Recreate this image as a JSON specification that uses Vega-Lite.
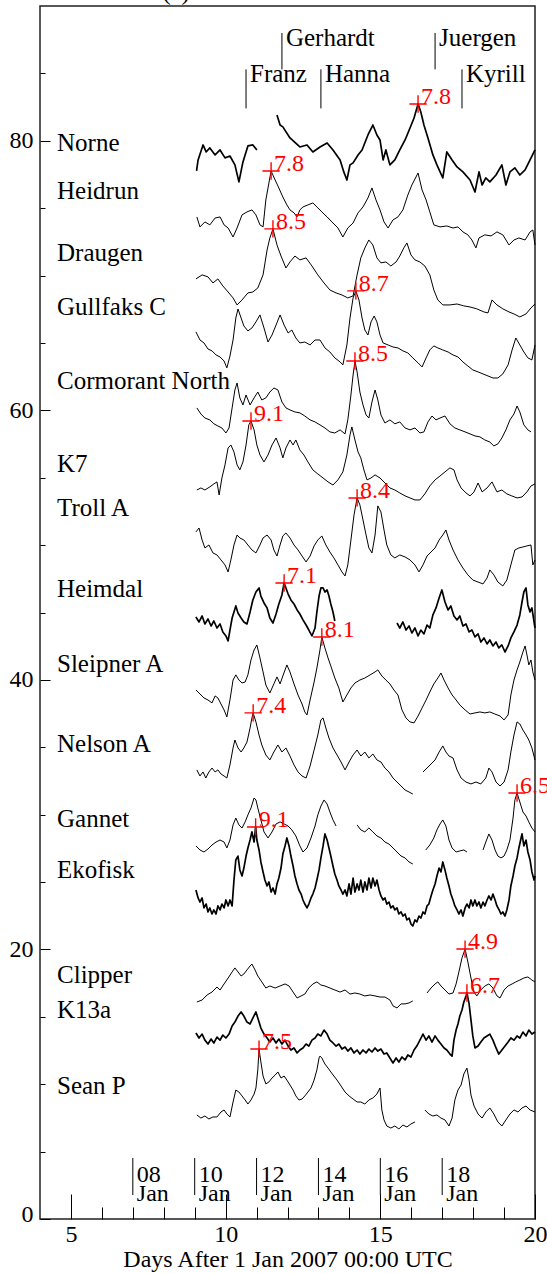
{
"$schema":"https://vega.github.io/schema/vega-lite/v6.json",
"width":495,"height":1213,
"autosize":{"type":"none"},
"padding":{"left":40,"top":6,"right":12,"bottom":54},
"background":"white",
"config":{"font":"Liberation Serif","view":{"stroke":"#222","strokeWidth":1.5},
"axis":{"grid":false,"domain":false,"tickColor":"black","tickWidth":1,"labelColor":"black","labelFont":"Liberation Serif","labelFontSize":24,"titleFont":"Liberation Serif","titleFontSize":24,"titleFontWeight":"normal","titleColor":"black","labelFlush":false,"labelOverlap":false}},
"resolve":{"axis":{"x":"independent","y":"independent"}},
"layer":[
{"data":{"values":"s,x,y\nNO1,9.06,77.76\nNO1,9.11,78.58\nNO1,9.27,79.69\nNO1,9.37,79.17\nNO1,9.49,79.47\nNO1,9.66,78.95\nNO1,9.82,79.32\nNO1,9.98,78.73\nNO1,10.14,78.87\nNO1,10.30,78.21\nNO1,10.43,76.95\nNO1,10.56,78.43\nNO1,10.72,79.62\nNO1,10.88,79.69\nNO1,11.01,79.32\nNO2,11.66,81.92\nNO2,11.76,81.17\nNO2,11.85,81.03\nNO2,12.08,80.21\nNO2,12.40,79.54\nNO2,12.63,79.69\nNO2,12.82,79.17\nNO2,13.05,79.54\nNO2,13.28,79.84\nNO2,13.47,79.32\nNO2,13.70,78.58\nNO2,13.82,77.69\nNO2,13.92,77.09\nNO2,14.02,78.21\nNO2,14.12,78.36\nNO2,14.28,78.95\nNO2,14.41,79.32\nNO2,14.60,80.43\nNO2,14.76,81.17\nNO2,14.89,80.43\nNO2,14.99,80.06\nNO2,15.09,78.58\nNO2,15.18,79.32\nNO2,15.31,78.21\nNO2,15.47,78.58\nNO2,15.63,79.32\nNO2,15.80,80.06\nNO2,15.96,80.95\nNO2,16.09,81.69\nNO2,16.22,82.73\nNO2,16.31,82.14\nNO2,16.41,81.17\nNO2,16.54,80.21\nNO2,16.70,78.95\nNO2,16.83,78.21\nNO2,17.02,77.24\nNO2,17.15,79.17\nNO2,17.32,78.58\nNO2,17.48,78.06\nNO2,17.67,77.69\nNO2,17.90,77.09\nNO2,18.06,76.20\nNO2,18.19,77.69\nNO2,18.29,76.72\nNO2,18.41,77.24\nNO2,18.54,76.95\nNO2,18.74,77.46\nNO2,18.93,78.21\nNO2,19.06,76.72\nNO2,19.19,77.69\nNO2,19.35,77.99\nNO2,19.51,77.46\nNO2,19.68,77.84\nNO2,19.84,78.58\nNO2,20.00,79.32\nHE1,9.07,74.35\nHE1,9.17,73.61\nHE1,9.33,73.98\nHE1,9.49,73.76\nHE1,9.66,74.27\nHE1,9.82,74.35\nHE1,9.95,73.76\nHE1,10.08,73.53\nHE1,10.24,72.86\nHE1,10.37,73.53\nHE1,10.53,74.50\nHE1,10.69,74.72\nHE1,10.85,74.87\nHE1,10.98,74.50\nHE1,11.11,73.76\nHE1,11.21,73.61\nHE1,11.30,75.61\nHE1,11.37,76.50\nHE1,11.47,77.76\nHE1,11.60,77.09\nHE1,11.69,76.65\nHE1,11.85,75.83\nHE1,11.98,75.24\nHE1,12.08,74.87\nHE1,12.21,74.65\nHE1,12.31,74.35\nHE1,12.40,74.87\nHE1,12.50,75.09\nHE1,12.66,75.24\nHE1,12.82,75.39\nHE1,12.98,75.02\nHE1,13.11,74.72\nHE1,13.28,74.35\nHE1,13.47,73.90\nHE1,13.63,73.53\nHE1,13.79,72.86\nHE1,13.95,73.53\nHE1,14.12,73.90\nHE1,14.28,74.65\nHE1,14.44,75.09\nHE1,14.60,75.76\nHE1,14.73,76.50\nHE1,14.86,75.61\nHE1,14.99,74.87\nHE1,15.12,73.98\nHE1,15.25,73.53\nHE1,15.41,74.13\nHE1,15.57,74.35\nHE1,15.73,74.87\nHE1,15.89,75.98\nHE1,16.02,76.72\nHE1,16.22,77.61\nHE1,16.35,76.35\nHE1,16.48,75.61\nHE1,16.60,74.72\nHE1,16.73,73.76\nHE1,16.93,73.61\nHE1,17.15,73.68\nHE1,17.35,73.53\nHE1,17.51,73.61\nHE1,17.67,73.24\nHE1,17.83,73.02\nHE1,17.96,72.64\nHE1,18.09,72.05\nHE1,18.19,72.79\nHE1,18.38,73.02\nHE1,18.58,72.94\nHE1,18.77,73.24\nHE1,18.96,73.02\nHE1,19.16,72.27\nHE1,19.32,72.64\nHE1,19.48,72.79\nHE1,19.68,72.64\nHE1,19.84,73.24\nHE1,19.93,73.38\nHE1,20.00,72.27\nDR1,9.04,69.75\nDR1,9.24,70.05\nDR1,9.43,69.90\nDR1,9.59,69.45\nDR1,9.75,69.75\nDR1,9.91,69.23\nDR1,10.08,68.78\nDR1,10.24,68.34\nDR1,10.37,67.82\nDR1,10.53,68.19\nDR1,10.72,68.71\nDR1,10.88,68.78\nDR1,11.04,69.08\nDR1,11.21,70.05\nDR1,11.34,71.90\nDR1,11.43,72.79\nDR1,11.53,73.46\nDR1,11.66,72.27\nDR1,11.79,71.45\nDR1,11.95,70.56\nDR1,12.08,71.01\nDR1,12.24,71.45\nDR1,12.40,71.16\nDR1,12.60,71.31\nDR1,12.79,70.71\nDR1,12.98,70.05\nDR1,13.18,69.45\nDR1,13.37,68.93\nDR1,13.57,68.71\nDR1,13.76,68.56\nDR1,13.95,68.34\nDR1,14.12,68.49\nDR1,14.25,70.05\nDR1,14.37,71.31\nDR1,14.50,72.05\nDR1,14.63,72.64\nDR1,14.76,72.27\nDR1,14.89,71.31\nDR1,15.02,70.94\nDR1,15.18,71.01\nDR1,15.34,70.71\nDR1,15.51,71.01\nDR1,15.63,71.45\nDR1,15.76,72.05\nDR1,15.86,72.42\nDR1,15.99,71.53\nDR1,16.12,71.16\nDR1,16.28,71.01\nDR1,16.44,70.71\nDR1,16.60,70.05\nDR1,16.73,68.93\nDR1,16.86,68.19\nDR1,17.02,67.82\nDR1,17.25,67.82\nDR1,17.48,67.89\nDR1,17.70,67.75\nDR1,17.90,67.67\nDR1,18.12,67.53\nDR1,18.35,67.30\nDR1,18.48,67.23\nDR1,18.61,68.19\nDR1,18.77,67.82\nDR1,18.96,67.53\nDR1,19.16,67.30\nDR1,19.32,67.15\nDR1,19.51,66.93\nDR1,19.71,67.15\nDR1,19.87,67.60\nDR1,20.00,67.89\nGU1,9.04,65.82\nGU1,9.17,65.22\nGU1,9.30,65.00\nGU1,9.43,64.55\nGU1,9.56,64.41\nGU1,9.69,64.11\nGU1,9.82,63.96\nGU1,9.95,63.66\nGU1,10.04,63.15\nGU1,10.14,64.03\nGU1,10.24,65.22\nGU1,10.33,66.85\nGU1,10.40,67.52\nGU1,10.50,66.85\nGU1,10.59,66.26\nGU1,10.72,65.89\nGU1,10.85,66.11\nGU1,10.98,66.56\nGU1,11.11,67.08\nGU1,11.24,66.11\nGU1,11.37,65.07\nGU1,11.50,65.59\nGU1,11.63,66.33\nGU1,11.76,67.08\nGU1,11.89,66.33\nGU1,12.02,65.74\nGU1,12.14,65.96\nGU1,12.27,65.37\nGU1,12.40,65.00\nGU1,12.56,65.07\nGU1,12.73,64.85\nGU1,12.89,65.22\nGU1,13.05,65.22\nGU1,13.21,64.63\nGU1,13.37,64.33\nGU1,13.53,63.89\nGU1,13.70,63.59\nGU1,13.79,63.37\nGU1,13.92,64.85\nGU1,14.02,66.85\nGU1,14.12,68.34\nGU1,14.21,68.86\nGU1,14.31,68.19\nGU1,14.41,66.85\nGU1,14.50,65.96\nGU1,14.60,65.59\nGU1,14.70,66.56\nGU1,14.80,67.00\nGU1,14.89,66.56\nGU1,14.99,65.59\nGU1,15.09,65.00\nGU1,15.25,64.85\nGU1,15.41,64.70\nGU1,15.57,64.63\nGU1,15.73,64.41\nGU1,15.89,64.26\nGU1,16.05,63.89\nGU1,16.22,63.52\nGU1,16.35,63.22\nGU1,16.48,63.89\nGU1,16.60,64.48\nGU1,16.73,64.78\nGU1,16.86,64.63\nGU1,17.02,64.48\nGU1,17.19,64.33\nGU1,17.35,64.11\nGU1,17.51,63.96\nGU1,17.67,63.59\nGU1,17.83,63.29\nGU1,17.99,63.00\nGU1,18.16,62.85\nGU1,18.32,62.70\nGU1,18.48,62.55\nGU1,18.64,62.40\nGU1,18.80,62.40\nGU1,18.96,62.70\nGU1,19.13,63.37\nGU1,19.26,64.48\nGU1,19.38,65.37\nGU1,19.51,64.85\nGU1,19.64,64.33\nGU1,19.77,63.89\nGU1,19.90,63.74\nGU1,20.00,64.85\nCO1,9.07,60.18\nCO1,9.20,59.73\nCO1,9.33,59.43\nCO1,9.49,59.29\nCO1,9.62,59.00\nCO1,9.75,58.84\nCO1,9.88,58.69\nCO1,10.01,58.32\nCO1,10.11,58.69\nCO1,10.21,60.18\nCO1,10.30,61.51\nCO1,10.37,62.03\nCO1,10.46,60.92\nCO1,10.56,60.40\nCO1,10.66,61.14\nCO1,10.79,60.40\nCO1,10.92,60.92\nCO1,11.04,61.36\nCO1,11.17,60.77\nCO1,11.30,60.92\nCO1,11.43,61.36\nCO1,11.56,61.66\nCO1,11.69,61.51\nCO1,11.82,60.62\nCO1,11.95,60.18\nCO1,12.08,60.03\nCO1,12.24,59.88\nCO1,12.40,59.81\nCO1,12.56,59.58\nCO1,12.73,59.29\nCO1,12.89,59.14\nCO1,13.05,58.92\nCO1,13.21,58.69\nCO1,13.37,58.40\nCO1,13.53,58.32\nCO1,13.70,58.55\nCO1,13.86,58.25\nCO1,13.95,59.29\nCO1,14.05,61.14\nCO1,14.12,62.62\nCO1,14.18,63.66\nCO1,14.25,62.85\nCO1,14.34,61.36\nCO1,14.44,60.40\nCO1,14.54,59.66\nCO1,14.63,59.43\nCO1,14.73,60.62\nCO1,14.83,61.51\nCO1,14.92,60.77\nCO1,15.02,59.66\nCO1,15.15,59.06\nCO1,15.31,59.29\nCO1,15.47,59.00\nCO1,15.63,59.14\nCO1,15.80,58.69\nCO1,15.96,58.55\nCO1,16.12,58.69\nCO1,16.28,58.32\nCO1,16.41,58.40\nCO1,16.54,59.14\nCO1,16.67,59.58\nCO1,16.80,59.29\nCO1,16.93,59.43\nCO1,17.09,59.58\nCO1,17.25,59.00\nCO1,17.41,58.69\nCO1,17.57,58.55\nCO1,17.74,58.40\nCO1,17.90,58.25\nCO1,18.06,58.10\nCO1,18.22,58.03\nCO1,18.38,57.80\nCO1,18.54,57.65\nCO1,18.67,57.36\nCO1,18.80,57.51\nCO1,18.93,57.95\nCO1,19.06,58.55\nCO1,19.19,59.29\nCO1,19.32,59.73\nCO1,19.42,60.32\nCO1,19.51,59.88\nCO1,19.64,58.92\nCO1,19.77,58.55\nCO1,19.87,58.40\nK71,9.07,54.09\nK71,9.20,54.24\nK71,9.33,54.09\nK71,9.49,54.32\nK71,9.62,54.54\nK71,9.72,54.69\nK71,9.79,53.72\nK71,9.88,54.98\nK71,9.98,55.95\nK71,10.08,57.21\nK71,10.17,57.43\nK71,10.27,56.91\nK71,10.37,55.95\nK71,10.46,55.58\nK71,10.56,56.17\nK71,10.66,57.43\nK71,10.75,58.92\nK71,10.82,59.21\nK71,10.92,58.55\nK71,11.01,57.43\nK71,11.11,56.69\nK71,11.24,56.17\nK71,11.37,56.69\nK71,11.50,57.43\nK71,11.63,57.95\nK71,11.76,57.21\nK71,11.85,56.47\nK71,11.95,57.21\nK71,12.08,57.80\nK71,12.18,57.43\nK71,12.27,57.80\nK71,12.40,57.06\nK71,12.53,56.69\nK71,12.66,56.17\nK71,12.82,55.58\nK71,12.98,55.28\nK71,13.15,54.98\nK71,13.31,54.69\nK71,13.47,54.46\nK71,13.63,54.84\nK71,13.79,55.43\nK71,13.92,56.69\nK71,14.02,58.17\nK71,14.08,58.77\nK71,14.18,57.80\nK71,14.28,56.91\nK71,14.37,56.47\nK71,14.47,55.58\nK71,14.57,54.84\nK71,14.70,54.98\nK71,14.83,55.21\nK71,14.99,54.98\nK71,15.15,54.61\nK71,15.31,54.24\nK71,15.47,54.09\nK71,15.63,53.87\nK71,15.80,53.65\nK71,15.96,53.50\nK71,16.12,53.35\nK71,16.28,53.35\nK71,16.44,53.80\nK71,16.60,54.39\nK71,16.77,54.84\nK71,16.93,55.13\nK71,17.09,55.43\nK71,17.25,55.73\nK71,17.38,55.58\nK71,17.48,54.84\nK71,17.61,54.24\nK71,17.77,53.87\nK71,17.90,53.65\nK71,18.03,53.95\nK71,18.16,54.61\nK71,18.29,53.95\nK71,18.45,54.24\nK71,18.61,54.69\nK71,18.77,53.95\nK71,18.93,54.09\nK71,19.09,53.80\nK71,19.25,53.65\nK71,19.42,53.50\nK71,19.58,53.57\nK71,19.74,53.95\nK71,19.87,54.39\nK71,20.00,54.54\nTR1,9.04,50.98\nTR1,9.14,51.27\nTR1,9.24,50.38\nTR1,9.33,49.79\nTR1,9.46,50.01\nTR1,9.59,49.42\nTR1,9.72,49.27\nTR1,9.85,48.90\nTR1,9.98,48.53\nTR1,10.08,48.01\nTR1,10.17,48.90\nTR1,10.27,50.01\nTR1,10.37,50.75\nTR1,10.46,50.53\nTR1,10.59,50.38\nTR1,10.72,50.01\nTR1,10.85,49.64\nTR1,10.98,49.42\nTR1,11.11,50.01\nTR1,11.21,50.53\nTR1,11.34,50.75\nTR1,11.47,50.38\nTR1,11.56,49.64\nTR1,11.66,49.19\nTR1,11.76,50.01\nTR1,11.85,50.68\nTR1,11.95,50.90\nTR1,12.08,50.53\nTR1,12.21,50.01\nTR1,12.34,49.64\nTR1,12.47,49.19\nTR1,12.60,48.75\nTR1,12.73,49.19\nTR1,12.86,49.94\nTR1,12.98,50.38\nTR1,13.11,50.68\nTR1,13.24,50.01\nTR1,13.37,49.49\nTR1,13.50,49.05\nTR1,13.63,48.53\nTR1,13.76,48.01\nTR1,13.86,47.71\nTR1,13.95,48.53\nTR1,14.05,50.38\nTR1,14.15,52.24\nTR1,14.25,53.50\nTR1,14.34,52.98\nTR1,14.44,51.87\nTR1,14.54,50.75\nTR1,14.63,49.79\nTR1,14.73,49.42\nTR1,14.83,50.75\nTR1,14.92,52.91\nTR1,15.02,52.46\nTR1,15.12,51.12\nTR1,15.21,50.01\nTR1,15.34,49.27\nTR1,15.47,49.05\nTR1,15.63,49.27\nTR1,15.80,49.12\nTR1,15.96,48.90\nTR1,16.12,48.53\nTR1,16.25,48.01\nTR1,16.38,48.53\nTR1,16.51,49.19\nTR1,16.64,49.49\nTR1,16.77,49.79\nTR1,16.90,50.38\nTR1,17.02,50.75\nTR1,17.12,51.12\nTR1,17.22,50.38\nTR1,17.35,49.64\nTR1,17.51,48.90\nTR1,17.67,48.30\nTR1,17.83,47.79\nTR1,17.99,47.41\nTR1,18.16,47.26\nTR1,18.32,47.12\nTR1,18.45,47.56\nTR1,18.54,48.16\nTR1,18.67,47.79\nTR1,18.80,47.26\nTR1,18.96,46.97\nTR1,19.09,47.41\nTR1,19.22,48.53\nTR1,19.35,49.64\nTR1,19.48,49.79\nTR1,19.61,49.86\nTR1,19.74,49.94\nTR1,19.87,50.01\nTR1,19.93,48.53\nTR1,20.00,48.90\nHM1,9.04,44.67\nHM1,9.14,44.30\nHM1,9.24,44.74\nHM1,9.33,44.15\nHM1,9.43,44.52\nHM1,9.53,44.00\nHM1,9.62,44.37\nHM1,9.72,43.85\nHM1,9.82,44.15\nHM1,9.91,43.56\nHM1,10.01,43.26\nHM1,10.08,42.89\nHM1,10.14,43.70\nHM1,10.21,44.59\nHM1,10.27,45.04\nHM1,10.33,45.49\nHM1,10.40,44.96\nHM1,10.50,44.59\nHM1,10.59,44.30\nHM1,10.69,44.15\nHM1,10.79,45.04\nHM1,10.88,45.93\nHM1,10.98,46.52\nHM1,11.08,46.82\nHM1,11.14,46.22\nHM1,11.24,45.71\nHM1,11.34,45.34\nHM1,11.43,44.59\nHM1,11.53,44.22\nHM1,11.63,44.89\nHM1,11.72,45.63\nHM1,11.82,46.30\nHM1,11.89,47.19\nHM1,12.02,46.37\nHM1,12.11,45.93\nHM1,12.21,45.63\nHM1,12.31,45.19\nHM1,12.40,44.89\nHM1,12.50,44.45\nHM1,12.60,44.07\nHM1,12.69,43.70\nHM1,12.79,43.26\nHM1,12.89,43.85\nHM1,12.95,45.04\nHM1,13.02,46.22\nHM1,13.08,46.82\nHM1,13.15,46.82\nHM1,13.21,46.52\nHM1,13.28,46.67\nHM1,13.34,46.22\nHM1,13.40,45.63\nHM1,13.47,45.04\nHM1,13.53,44.37\nHM2,15.54,44.22\nHM2,15.63,43.85\nHM2,15.73,44.30\nHM2,15.83,43.70\nHM2,15.93,44.00\nHM2,16.02,43.48\nHM2,16.12,43.85\nHM2,16.22,43.26\nHM2,16.31,43.70\nHM2,16.41,43.41\nHM2,16.51,44.07\nHM2,16.60,43.85\nHM2,16.70,44.82\nHM2,16.80,45.34\nHM2,16.90,46.08\nHM2,16.99,46.67\nHM2,17.09,45.78\nHM2,17.19,45.19\nHM2,17.28,45.49\nHM2,17.38,44.74\nHM2,17.48,44.45\nHM2,17.57,44.74\nHM2,17.67,44.00\nHM2,17.77,44.15\nHM2,17.87,43.56\nHM2,17.96,43.70\nHM2,18.06,43.19\nHM2,18.16,43.41\nHM2,18.25,42.81\nHM2,18.35,43.11\nHM2,18.45,42.67\nHM2,18.54,42.96\nHM2,18.64,42.52\nHM2,18.74,42.81\nHM2,18.83,42.37\nHM2,18.93,42.59\nHM2,19.03,42.07\nHM2,19.13,42.52\nHM2,19.22,43.11\nHM2,19.32,43.56\nHM2,19.42,44.07\nHM2,19.51,44.82\nHM2,19.58,45.78\nHM2,19.64,46.52\nHM2,19.71,46.82\nHM2,19.77,45.56\nHM2,19.84,45.04\nHM2,19.90,45.34\nHM2,20.00,43.85\nSL1,9.04,39.25\nSL1,9.17,38.96\nSL1,9.30,38.66\nSL1,9.43,38.51\nSL1,9.56,38.29\nSL1,9.66,38.81\nSL1,9.75,38.66\nSL1,9.85,38.21\nSL1,9.95,37.77\nSL1,10.04,37.25\nSL1,10.14,38.51\nSL1,10.24,39.99\nSL1,10.33,40.37\nSL1,10.43,39.99\nSL1,10.53,39.77\nSL1,10.63,39.84\nSL1,10.72,40.37\nSL1,10.82,41.48\nSL1,10.92,42.22\nSL1,11.01,42.59\nSL1,11.11,41.63\nSL1,11.21,40.59\nSL1,11.30,39.62\nSL1,11.43,39.03\nSL1,11.56,39.70\nSL1,11.66,40.22\nSL1,11.76,39.70\nSL1,11.85,40.29\nSL1,11.98,41.11\nSL1,12.08,40.59\nSL1,12.21,39.70\nSL1,12.34,38.88\nSL1,12.47,38.21\nSL1,12.56,37.62\nSL1,12.63,37.40\nSL1,12.73,38.51\nSL1,12.86,39.84\nSL1,12.95,40.88\nSL1,13.05,42.22\nSL1,13.11,43.18\nSL1,13.21,42.37\nSL1,13.31,41.63\nSL1,13.40,41.03\nSL1,13.53,40.14\nSL1,13.66,39.40\nSL1,13.79,38.36\nSL1,13.92,38.88\nSL1,14.05,39.40\nSL1,14.18,39.77\nSL1,14.34,39.99\nSL1,14.50,40.14\nSL1,14.67,40.37\nSL1,14.83,40.59\nSL1,14.92,40.74\nSL1,15.05,40.29\nSL1,15.18,39.99\nSL1,15.31,39.70\nSL1,15.44,39.25\nSL1,15.57,38.88\nSL1,15.70,37.77\nSL1,15.83,37.18\nSL1,15.96,36.88\nSL1,16.09,36.81\nSL1,16.22,37.32\nSL1,16.35,37.92\nSL1,16.48,38.51\nSL1,16.60,39.10\nSL1,16.73,39.70\nSL1,16.86,40.14\nSL1,16.96,40.51\nSL1,17.06,39.99\nSL1,17.19,39.40\nSL1,17.32,38.88\nSL1,17.45,38.51\nSL1,17.57,38.14\nSL1,17.74,37.77\nSL1,17.90,37.47\nSL1,18.06,37.55\nSL1,18.22,37.62\nSL1,18.38,37.55\nSL1,18.54,37.62\nSL1,18.70,37.47\nSL1,18.87,37.32\nSL1,19.00,37.03\nSL1,19.13,37.40\nSL1,19.22,38.88\nSL1,19.32,39.99\nSL1,19.42,40.74\nSL1,19.51,41.33\nSL1,19.61,42.07\nSL1,19.68,42.52\nSL1,19.74,41.85\nSL1,19.80,41.11\nSL1,19.87,41.48\nSL1,19.93,40.59\nSL1,20.00,39.99\nNE1,9.07,33.32\nNE1,9.17,32.87\nNE1,9.27,33.17\nNE1,9.36,32.72\nNE1,9.46,33.17\nNE1,9.56,33.46\nNE1,9.66,33.17\nNE1,9.75,33.32\nNE1,9.85,33.02\nNE1,9.95,32.87\nNE1,10.04,32.72\nNE1,10.14,33.69\nNE1,10.24,34.95\nNE1,10.30,35.54\nNE1,10.40,34.95\nNE1,10.50,34.65\nNE1,10.59,34.95\nNE1,10.69,35.39\nNE1,10.79,36.43\nNE1,10.85,37.18\nNE1,10.89,37.55\nNE1,10.98,36.88\nNE1,11.08,35.91\nNE1,11.17,35.17\nNE1,11.30,34.43\nNE1,11.43,34.06\nNE1,11.56,34.65\nNE1,11.69,35.17\nNE1,11.82,34.65\nNE1,11.95,34.95\nNE1,12.08,34.35\nNE1,12.21,33.69\nNE1,12.34,33.17\nNE1,12.47,32.87\nNE1,12.60,32.72\nNE1,12.73,33.61\nNE1,12.86,34.80\nNE1,12.98,35.91\nNE1,13.08,37.03\nNE1,13.15,37.18\nNE1,13.24,36.43\nNE1,13.34,35.69\nNE1,13.47,34.95\nNE1,13.60,34.43\nNE1,13.73,33.91\nNE1,13.86,33.32\nNE1,13.99,33.91\nNE1,14.12,34.43\nNE1,14.25,34.80\nNE1,14.37,34.35\nNE1,14.50,34.65\nNE1,14.63,34.21\nNE1,14.76,34.50\nNE1,14.89,34.06\nNE1,15.02,33.91\nNE1,15.15,33.46\nNE1,15.28,33.17\nNE1,15.41,32.72\nNE1,15.54,32.42\nNE1,15.67,32.13\nNE1,15.80,31.83\nNE1,15.93,31.68\nNE1,16.05,31.53\nNE2,16.38,33.17\nNE2,16.51,33.46\nNE2,16.64,33.76\nNE2,16.77,34.06\nNE2,16.90,34.65\nNE2,17.02,35.10\nNE2,17.12,34.65\nNE2,17.22,34.35\nNE2,17.35,34.21\nNE2,17.48,33.32\nNE2,17.61,32.72\nNE2,17.77,32.42\nNE2,17.93,32.28\nNE2,18.09,32.42\nNE2,18.25,32.28\nNE2,18.41,32.72\nNE2,18.51,33.46\nNE2,18.61,33.17\nNE2,18.74,32.42\nNE2,18.87,32.13\nNE2,19.00,32.42\nNE2,19.13,33.32\nNE2,19.22,34.65\nNE2,19.32,35.91\nNE2,19.42,36.88\nNE2,19.51,36.73\nNE2,19.61,36.28\nNE2,19.71,35.91\nNE2,19.80,35.54\nNE2,19.90,34.95\nNE2,20.00,34.06\nGA1,9.04,27.68\nGA1,9.17,27.38\nGA1,9.30,27.23\nGA1,9.43,27.45\nGA1,9.56,27.75\nGA1,9.69,27.97\nGA1,9.82,28.12\nGA1,9.95,27.97\nGA1,10.04,27.53\nGA1,10.14,28.12\nGA1,10.24,29.24\nGA1,10.33,29.75\nGA1,10.43,29.24\nGA1,10.53,29.01\nGA1,10.63,29.46\nGA1,10.72,29.98\nGA1,10.82,30.50\nGA1,10.92,31.24\nGA1,10.98,31.09\nGA1,11.04,30.50\nGA1,11.14,29.61\nGA1,11.24,28.72\nGA1,11.37,28.27\nGA1,11.50,28.72\nGA1,11.63,29.31\nGA1,11.76,29.46\nGA1,11.89,29.31\nGA1,12.02,29.16\nGA1,12.14,28.87\nGA1,12.27,28.42\nGA1,12.40,27.68\nGA1,12.50,27.23\nGA1,12.63,27.53\nGA1,12.76,28.27\nGA1,12.89,29.16\nGA1,12.98,29.98\nGA1,13.08,30.64\nGA1,13.18,31.09\nGA1,13.28,30.79\nGA1,13.37,30.20\nGA1,13.47,29.61\nGA1,13.57,29.16\nGA2,14.25,29.24\nGA2,14.37,28.87\nGA2,14.50,28.72\nGA2,14.63,29.01\nGA2,14.76,28.72\nGA2,14.89,28.42\nGA2,15.02,28.27\nGA2,15.15,27.97\nGA2,15.28,27.82\nGA2,15.41,27.53\nGA2,15.54,27.23\nGA2,15.67,26.93\nGA2,15.80,26.79\nGA2,15.93,26.49\nGA2,16.05,26.34\nGA3,16.47,27.38\nGA3,16.60,27.75\nGA3,16.73,28.27\nGA3,16.83,28.87\nGA3,16.93,29.31\nGA3,17.02,29.61\nGA3,17.12,29.16\nGA3,17.22,28.12\nGA3,17.32,27.53\nGA3,17.45,27.23\nGA3,17.57,27.31\nGA3,17.70,27.38\nGA3,17.80,27.23\nGA4,18.32,27.38\nGA4,18.41,27.97\nGA4,18.51,28.57\nGA4,18.61,28.12\nGA4,18.71,27.38\nGA4,18.80,26.93\nGA4,18.90,26.79\nGA4,19.00,26.93\nGA4,19.09,27.38\nGA4,19.19,28.12\nGA4,19.29,29.75\nGA4,19.35,31.09\nGA4,19.42,31.61\nGA4,19.51,30.94\nGA4,19.61,30.20\nGA4,19.71,29.90\nGA4,19.80,29.46\nGA4,19.90,29.01\nGA4,20.00,28.72\nEK1,9.04,24.41\nEK1,9.11,23.82\nEK1,9.17,23.52\nEK1,9.24,23.82\nEK1,9.30,23.08\nEK1,9.37,23.37\nEK1,9.43,22.78\nEK1,9.49,23.08\nEK1,9.56,22.63\nEK1,9.62,22.93\nEK1,9.69,22.63\nEK1,9.75,23.23\nEK1,9.82,22.93\nEK1,9.88,23.37\nEK1,9.95,23.08\nEK1,10.01,23.67\nEK1,10.08,23.23\nEK1,10.14,23.67\nEK1,10.21,23.23\nEK1,10.27,25.15\nEK1,10.33,26.64\nEK1,10.40,26.93\nEK1,10.46,25.90\nEK1,10.53,25.45\nEK1,10.59,26.04\nEK1,10.66,26.93\nEK1,10.72,27.53\nEK1,10.79,28.12\nEK1,10.85,28.72\nEK1,10.92,27.97\nEK1,10.97,29.09\nEK1,11.01,28.12\nEK1,11.08,27.38\nEK1,11.14,26.49\nEK1,11.21,25.75\nEK1,11.27,25.15\nEK1,11.34,24.71\nEK1,11.40,25.01\nEK1,11.47,24.26\nEK1,11.53,24.56\nEK1,11.60,24.11\nEK1,11.66,24.86\nEK1,11.72,25.30\nEK1,11.79,26.04\nEK1,11.85,27.08\nEK1,11.92,27.68\nEK1,11.98,28.27\nEK1,12.05,27.68\nEK1,12.11,26.93\nEK1,12.18,26.19\nEK1,12.24,25.45\nEK1,12.31,24.86\nEK1,12.37,24.41\nEK1,12.44,24.11\nEK1,12.50,23.67\nEK1,12.56,23.37\nEK1,12.63,23.08\nEK1,12.69,23.37\nEK1,12.76,23.82\nEK1,12.82,24.11\nEK1,12.89,24.56\nEK1,12.95,25.15\nEK1,13.02,25.90\nEK1,13.08,26.79\nEK1,13.15,27.68\nEK1,13.21,28.57\nEK1,13.28,28.12\nEK1,13.34,27.53\nEK1,13.40,26.93\nEK1,13.47,26.19\nEK1,13.53,25.60\nEK1,13.60,25.15\nEK1,13.66,24.71\nEK1,13.73,24.41\nEK1,13.79,24.11\nEK1,13.86,24.41\nEK1,13.92,23.97\nEK1,13.99,24.86\nEK1,14.05,24.11\nEK1,14.12,25.30\nEK1,14.18,24.26\nEK1,14.25,24.86\nEK1,14.31,24.41\nEK1,14.37,25.15\nEK1,14.44,24.26\nEK1,14.50,25.01\nEK1,14.57,24.41\nEK1,14.63,25.30\nEK1,14.70,24.56\nEK1,14.76,25.30\nEK1,14.83,24.71\nEK1,14.89,25.15\nEK1,14.96,24.41\nEK1,15.02,23.97\nEK1,15.09,23.67\nEK1,15.15,23.82\nEK1,15.21,23.37\nEK1,15.28,23.52\nEK1,15.34,23.08\nEK1,15.41,23.23\nEK1,15.47,22.93\nEK1,15.54,23.08\nEK1,15.60,22.63\nEK1,15.67,22.78\nEK1,15.73,22.48\nEK1,15.80,22.63\nEK1,15.86,22.19\nEK1,15.93,22.33\nEK1,15.99,21.89\nEK1,16.05,21.74\nEK1,16.12,22.19\nEK1,16.18,22.04\nEK1,16.25,22.48\nEK1,16.31,22.33\nEK1,16.38,22.78\nEK1,16.44,22.63\nEK1,16.51,23.23\nEK1,16.57,23.37\nEK1,16.64,23.97\nEK1,16.70,24.41\nEK1,16.77,24.86\nEK1,16.83,25.45\nEK1,16.90,26.04\nEK1,16.96,25.75\nEK1,17.02,26.49\nEK1,17.09,25.90\nEK1,17.15,25.30\nEK1,17.22,24.71\nEK1,17.28,24.11\nEK1,17.35,23.67\nEK1,17.41,23.23\nEK1,17.48,22.93\nEK1,17.54,22.63\nEK1,17.61,22.93\nEK1,17.67,22.48\nEK1,17.74,23.08\nEK1,17.80,23.37\nEK1,17.87,23.08\nEK1,17.93,23.67\nEK1,17.99,23.23\nEK1,18.06,23.67\nEK1,18.12,23.23\nEK1,18.19,23.52\nEK1,18.25,23.08\nEK1,18.32,23.52\nEK1,18.38,23.23\nEK1,18.45,23.67\nEK1,18.51,23.97\nEK1,18.58,23.67\nEK1,18.64,24.11\nEK1,18.71,23.67\nEK1,18.77,23.23\nEK1,18.84,22.93\nEK1,18.90,22.63\nEK1,18.96,22.78\nEK1,19.03,22.48\nEK1,19.09,22.93\nEK1,19.16,23.67\nEK1,19.22,24.71\nEK1,19.29,25.45\nEK1,19.35,26.19\nEK1,19.42,26.79\nEK1,19.48,27.53\nEK1,19.55,28.27\nEK1,19.58,28.57\nEK1,19.64,27.68\nEK1,19.71,28.12\nEK1,19.77,27.23\nEK1,19.84,26.64\nEK1,19.90,25.75\nEK1,19.97,25.15\nEK1,20.00,25.45\nCL1,9.07,16.10\nCL1,9.24,16.25\nCL1,9.40,16.62\nCL1,9.56,16.84\nCL1,9.72,17.21\nCL1,9.82,16.99\nCL1,9.95,17.44\nCL1,10.08,17.88\nCL1,10.21,18.33\nCL1,10.30,18.63\nCL1,10.40,18.33\nCL1,10.50,18.03\nCL1,10.59,18.18\nCL1,10.69,18.48\nCL1,10.79,18.77\nCL1,10.85,18.92\nCL1,10.95,18.48\nCL1,11.04,18.03\nCL1,11.17,17.59\nCL1,11.30,17.14\nCL1,11.43,17.29\nCL1,11.60,17.14\nCL1,11.76,17.29\nCL1,11.92,17.44\nCL1,12.05,17.29\nCL1,12.18,16.84\nCL1,12.31,16.40\nCL1,12.44,16.55\nCL1,12.56,16.69\nCL1,12.69,17.14\nCL1,12.82,17.44\nCL1,12.95,17.59\nCL1,13.08,17.36\nCL1,13.21,17.29\nCL1,13.37,17.14\nCL1,13.53,16.99\nCL1,13.70,16.84\nCL1,13.86,16.99\nCL1,14.02,16.69\nCL1,14.18,16.77\nCL1,14.34,16.69\nCL1,14.50,16.55\nCL1,14.67,16.62\nCL1,14.83,16.55\nCL1,14.99,16.47\nCL1,15.15,16.47\nCL1,15.31,16.25\nCL1,15.41,15.81\nCL1,15.54,15.66\nCL1,15.67,15.96\nCL1,15.80,15.96\nCL1,15.93,16.03\nCL1,16.05,16.18\nCL2,16.51,16.77\nCL2,16.64,17.14\nCL2,16.77,17.44\nCL2,16.86,17.59\nCL2,16.96,17.29\nCL2,17.09,16.99\nCL2,17.22,16.69\nCL2,17.35,16.77\nCL2,17.45,17.44\nCL2,17.54,18.33\nCL2,17.64,19.37\nCL2,17.74,20.03\nCL2,17.83,19.07\nCL2,17.93,17.88\nCL2,18.03,16.84\nCL2,18.12,16.55\nCL2,18.25,16.99\nCL2,18.38,17.29\nCL2,18.51,17.44\nCL2,18.64,17.14\nCL2,18.77,16.55\nCL2,18.87,16.40\nCL2,19.00,16.99\nCL2,19.13,17.29\nCL2,19.26,17.44\nCL2,19.38,17.59\nCL2,19.51,17.73\nCL2,19.64,17.88\nCL2,19.77,17.96\nCL2,19.90,17.73\nCL2,20.00,17.59\nKA1,9.04,13.80\nKA1,9.14,13.43\nKA1,9.24,13.72\nKA1,9.33,13.27\nKA1,9.43,12.98\nKA1,9.53,13.35\nKA1,9.62,13.06\nKA1,9.72,13.50\nKA1,9.82,13.27\nKA1,9.91,13.65\nKA1,10.01,13.43\nKA1,10.11,13.72\nKA1,10.21,14.32\nKA1,10.30,14.61\nKA1,10.40,15.06\nKA1,10.50,15.36\nKA1,10.59,15.06\nKA1,10.69,14.61\nKA1,10.79,14.47\nKA1,10.88,14.91\nKA1,10.98,15.36\nKA1,11.04,14.91\nKA1,11.14,14.17\nKA1,11.24,13.72\nKA1,11.34,13.43\nKA1,11.43,13.13\nKA1,11.53,13.43\nKA1,11.63,13.06\nKA1,11.72,13.35\nKA1,11.82,12.98\nKA1,11.92,13.27\nKA1,12.02,12.83\nKA1,12.11,12.54\nKA1,12.21,12.69\nKA1,12.31,12.32\nKA1,12.40,12.54\nKA1,12.50,12.69\nKA1,12.60,12.98\nKA1,12.69,12.83\nKA1,12.79,13.27\nKA1,12.89,13.43\nKA1,12.98,13.72\nKA1,13.08,13.58\nKA1,13.18,14.02\nKA1,13.28,13.72\nKA1,13.37,13.27\nKA1,13.47,13.06\nKA1,13.57,12.83\nKA1,13.66,12.98\nKA1,13.76,12.61\nKA1,13.86,12.76\nKA1,13.95,12.46\nKA1,14.05,12.69\nKA1,14.15,12.32\nKA1,14.25,12.54\nKA1,14.34,12.24\nKA1,14.44,12.54\nKA1,14.54,12.32\nKA1,14.63,12.61\nKA1,14.73,12.39\nKA1,14.83,12.69\nKA1,14.92,12.46\nKA1,15.02,12.61\nKA1,15.12,12.24\nKA1,15.21,12.32\nKA1,15.31,11.95\nKA1,15.41,11.58\nKA1,15.51,11.95\nKA1,15.60,11.65\nKA1,15.70,12.02\nKA1,15.80,11.80\nKA1,15.89,12.17\nKA1,15.99,12.02\nKA1,16.09,12.54\nKA1,16.18,12.83\nKA1,16.28,13.27\nKA1,16.38,13.72\nKA1,16.48,13.27\nKA1,16.57,13.58\nKA1,16.67,13.13\nKA1,16.77,13.58\nKA1,16.86,13.27\nKA1,16.96,12.98\nKA1,17.06,12.69\nKA1,17.15,12.54\nKA1,17.25,12.24\nKA1,17.32,12.09\nKA1,17.38,13.27\nKA1,17.45,14.02\nKA1,17.51,14.47\nKA1,17.57,15.06\nKA1,17.64,15.51\nKA1,17.70,16.10\nKA1,17.77,16.55\nKA1,17.80,16.77\nKA1,17.87,15.96\nKA1,17.93,14.77\nKA1,17.99,13.58\nKA1,18.06,12.69\nKA1,18.16,12.83\nKA1,18.25,13.13\nKA1,18.35,13.43\nKA1,18.45,13.58\nKA1,18.54,13.72\nKA1,18.64,13.27\nKA1,18.74,12.69\nKA1,18.83,12.24\nKA1,18.93,12.54\nKA1,19.03,12.83\nKA1,19.13,13.13\nKA1,19.22,13.43\nKA1,19.32,13.27\nKA1,19.42,13.58\nKA1,19.51,13.43\nKA1,19.61,13.87\nKA1,19.71,13.58\nKA1,19.80,14.02\nKA1,19.90,13.72\nKA1,20.00,13.87\nSP1,9.07,7.72\nSP1,9.20,7.49\nSP1,9.33,7.64\nSP1,9.46,7.42\nSP1,9.59,7.57\nSP1,9.72,7.57\nSP1,9.85,7.94\nSP1,9.95,8.09\nSP1,10.04,7.79\nSP1,10.14,7.57\nSP1,10.24,8.68\nSP1,10.33,9.57\nSP1,10.43,9.42\nSP1,10.53,9.13\nSP1,10.63,8.83\nSP1,10.72,8.53\nSP1,10.82,8.83\nSP1,10.92,9.27\nSP1,10.98,9.72\nSP1,11.04,11.06\nSP1,11.08,12.61\nSP1,11.14,11.65\nSP1,11.21,10.61\nSP1,11.30,10.02\nSP1,11.40,10.17\nSP1,11.50,10.46\nSP1,11.60,10.68\nSP1,11.69,10.91\nSP1,11.79,10.46\nSP1,11.89,10.61\nSP1,11.98,10.31\nSP1,12.08,9.94\nSP1,12.18,9.57\nSP1,12.27,9.13\nSP1,12.37,8.83\nSP1,12.47,8.90\nSP1,12.56,9.13\nSP1,12.66,9.42\nSP1,12.76,9.72\nSP1,12.86,10.31\nSP1,12.95,11.06\nSP1,13.02,11.95\nSP1,13.05,12.09\nSP1,13.11,11.95\nSP1,13.21,11.50\nSP1,13.31,11.20\nSP1,13.40,10.91\nSP1,13.50,10.61\nSP1,13.60,10.31\nSP1,13.73,9.87\nSP1,13.86,9.42\nSP1,13.99,9.13\nSP1,14.12,8.90\nSP1,14.25,8.68\nSP1,14.37,8.68\nSP1,14.50,8.53\nSP1,14.63,8.83\nSP1,14.76,8.98\nSP1,14.89,9.27\nSP1,14.99,9.72\nSP1,15.05,8.09\nSP1,15.12,7.35\nSP1,15.21,6.90\nSP1,15.34,6.75\nSP1,15.47,6.90\nSP1,15.60,6.68\nSP1,15.73,6.97\nSP1,15.86,6.83\nSP1,15.99,7.05\nSP1,16.12,7.20\nSP2,16.44,8.09\nSP2,16.57,7.79\nSP2,16.70,7.64\nSP2,16.83,7.72\nSP2,16.96,7.49\nSP2,17.09,7.35\nSP2,17.22,6.90\nSP2,17.32,7.49\nSP2,17.41,8.83\nSP2,17.51,9.57\nSP2,17.61,9.94\nSP2,17.70,10.76\nSP2,17.80,11.20\nSP2,17.87,10.31\nSP2,17.93,9.20\nSP2,18.03,8.38\nSP2,18.16,7.79\nSP2,18.29,7.49\nSP2,18.41,7.94\nSP2,18.54,8.24\nSP2,18.67,7.79\nSP2,18.80,7.20\nSP2,18.93,6.90\nSP2,19.06,7.35\nSP2,19.19,7.79\nSP2,19.32,8.09\nSP2,19.45,7.94\nSP2,19.58,8.24\nSP2,19.71,8.38\nSP2,19.84,8.09\nSP2,20.00,7.94","format":{"type":"csv","parse":{"x":"number","y":"number"}}},
 "mark":{"type":"line","color":"black","strokeJoin":"round"},
 "encoding":{
  "x":{"field":"x","type":"quantitative","scale":{"domain":[4,20],"nice":false,"zero":false},
   "axis":{"orient":"bottom","values":[5,6,7,8,9,10,11,12,13,14,15,16,17,18,19,20],"tickSize":{"condition":{"test":"datum.value % 5 === 0","value":-25},"value":-12},"labelExpr":"datum.value % 5 === 0 ? datum.label : ''","labelPadding":28,"title":"Days After 1 Jan 2007 00:00 UTC","titleY":47,"titleBaseline":"alphabetic"}},
  "y":{"field":"y","type":"quantitative","scale":{"domain":[0,90],"nice":false,"zero":false},
   "axis":{"orient":"left","values":[0,5,10,15,20,25,30,35,40,45,50,55,60,65,70,75,80,85],"tickSize":{"condition":{"test":"datum.value % 20 === 0","value":-10},"value":-5},"labelExpr":"datum.value % 20 === 0 ? datum.label : ''","labelPadding":17,"labelOffset":{"condition":{"test":"datum.value === 0","value":-5},"value":0},"title":null}},
  "detail":{"field":"s","type":"nominal"},
  "strokeWidth":{"condition":{"test":"indexof(['NO1','NO2','HM1','HM2','EK1','KA1'], datum.s) >= 0","value":1.7},"value":1}
 }},
{"data":{"values":[{"name":"Franz","x":10.66,"y":82.4,"y2":85.3},{"name":"Gerhardt","x":11.82,"y":85.3,"y2":88.0},{"name":"Hanna","x":13.08,"y":82.4,"y2":85.3},{"name":"Juergen","x":16.77,"y":85.3,"y2":88.0},{"name":"Kyrill","x":17.64,"y":82.4,"y2":85.3}]},
 "layer":[
  {"mark":{"type":"rule","color":"black","strokeWidth":1},
   "encoding":{"x":{"field":"x","type":"quantitative","scale":{"domain":[4,20],"nice":false,"zero":false},"axis":null},"y":{"field":"y","type":"quantitative","scale":{"domain":[0,90],"nice":false,"zero":false},"axis":null},"y2":{"field":"y2"}}},
  {"mark":{"type":"text","align":"left","baseline":"alphabetic","dx":4,"dy":13,"fontSize":25,"color":"black"},
   "encoding":{"x":{"field":"x","type":"quantitative","axis":null},"y":{"field":"y2","type":"quantitative","axis":null},"text":{"field":"name"}}}
 ]},
{"data":{"values":[{"d":"08\nJan","x":7},{"d":"10\nJan","x":9},{"d":"12\nJan","x":11},{"d":"14\nJan","x":13},{"d":"16\nJan","x":15},{"d":"18\nJan","x":17}]},
 "layer":[
  {"mark":{"type":"rule","color":"black","strokeWidth":1},
   "encoding":{"x":{"field":"x","type":"quantitative","axis":null},"y":{"datum":1.78,"type":"quantitative","axis":null},"y2":{"datum":4.53}}},
  {"mark":{"type":"text","align":"left","baseline":"alphabetic","dx":4,"dy":24,"fontSize":24,"lineBreak":"\n","lineHeight":19,"color":"black"},
   "encoding":{"x":{"field":"x","type":"quantitative","axis":null},"y":{"datum":4.53,"type":"quantitative","axis":null},"text":{"field":"d"}}}
 ]},
{"data":{"values":[{"name":"Norne","y":79.25},{"name":"Heidrun","y":75.68},{"name":"Draugen","y":71.08},{"name":"Gullfaks C","y":67.08},{"name":"Cormorant North","y":61.59},{"name":"K7","y":55.43},{"name":"Troll A","y":52.16},{"name":"Heimdal","y":46.15},{"name":"Sleipner A","y":40.59},{"name":"Nelson A","y":34.65},{"name":"Gannet","y":29.09},{"name":"Ekofisk","y":25.30},{"name":"Clipper","y":17.51},{"name":"K13a","y":14.91},{"name":"Sean P","y":9.28}]},
 "mark":{"type":"text","align":"left","baseline":"alphabetic","fontSize":25,"color":"black"},
 "encoding":{"x":{"datum":4.55,"type":"quantitative","axis":null},"y":{"field":"y","type":"quantitative","axis":null},"text":{"field":"name"}}},
{"data":{"values":[{"t":"(a)"}]},
 "mark":{"type":"text","align":"center","baseline":"alphabetic","fontSize":24,"color":"black"},
 "encoding":{"x":{"datum":8.4,"type":"quantitative","axis":null},"y":{"datum":90.45,"type":"quantitative","axis":null},"text":{"field":"t"}}},
{"data":{"values":[{"st":"Norne","x":16.22,"y":82.73,"v":"7.8"},{"st":"Heidrun","x":11.47,"y":77.76,"v":"7.8"},{"st":"Draugen","x":11.53,"y":73.46,"v":"8.5"},{"st":"Gullfaks C","x":14.21,"y":68.86,"v":"8.7"},{"st":"Cormorant North","x":14.18,"y":63.66,"v":"8.5"},{"st":"K7","x":10.82,"y":59.21,"v":"9.1"},{"st":"Troll A","x":14.25,"y":53.5,"v":"8.4"},{"st":"Heimdal","x":11.89,"y":47.19,"v":"7.1"},{"st":"Sleipner A","x":13.11,"y":43.18,"v":"8.1"},{"st":"Nelson A","x":10.89,"y":37.55,"v":"7.4"},{"st":"Gannet","x":19.42,"y":31.61,"v":"6.5"},{"st":"Ekofisk","x":10.97,"y":29.09,"v":"9.1"},{"st":"Clipper","x":17.74,"y":20.03,"v":"4.9"},{"st":"K13a","x":17.8,"y":16.77,"v":"6.7"},{"st":"Sean P","x":11.08,"y":12.61,"v":"7.5"}]},
 "layer":[
  {"mark":{"type":"point","shape":"M-1,0H1M0,-1V1","filled":false,"color":"#ff0000","size":300,"strokeWidth":1.4,"opacity":1},
   "encoding":{
    "x":{"field":"x","type":"quantitative","scale":{"domain":[4,20],"nice":false,"zero":false},
     "axis":{"orient":"top","values":[5,6,7,8,9,10,11,12,13,14,15,16,17,18,19],"tickSize":{"condition":{"test":"datum.value % 5 === 0","value":-25},"value":-12},"labels":false,"title":null}},
    "y":{"field":"y","type":"quantitative","scale":{"domain":[0,90],"nice":false,"zero":false},
     "axis":{"orient":"right","values":[5,10,15,20,25,30,35,40,45,50,55,60,65,70,75,80,85],"tickSize":{"condition":{"test":"datum.value % 20 === 0","value":-10},"value":-5},"labels":false,"title":null}}}},
  {"mark":{"type":"text","align":"left","baseline":"alphabetic","dx":3,"fontSize":24,"color":"#ff0000"},
   "encoding":{"x":{"field":"x","type":"quantitative","axis":null},"y":{"field":"y","type":"quantitative","axis":null},"text":{"field":"v"}}}
 ]}
]
}
